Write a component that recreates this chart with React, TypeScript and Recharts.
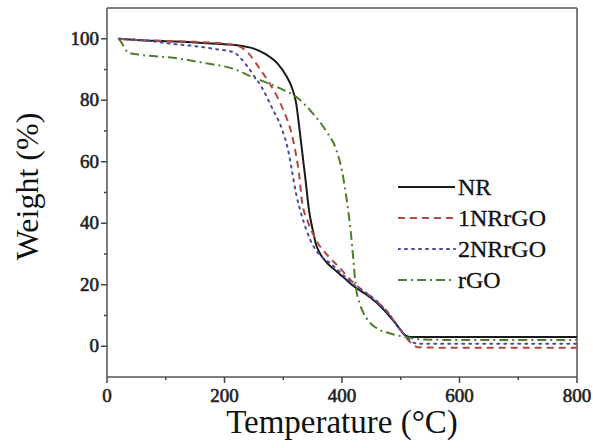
import { LineChart, Line, XAxis, YAxis, Legend, ReferenceLine, Label } from "recharts";

const FONT = "'Liberation Serif', 'Times New Roman', serif";

const xTicks = [0, 100, 200, 300, 400, 500, 600, 700, 800];
const yTicks = [0, 10, 20, 30, 40, 50, 60, 70, 80, 90, 100];

const nrTemp = [20, 50, 100, 150, 200, 225, 250, 270, 290, 305, 315, 322, 328, 333, 338, 344, 350, 356, 363, 375, 390, 405, 420, 440, 460, 480, 495, 505, 515, 600, 700, 800];
const nrWeight = [100, 99.6, 99.2, 98.8, 98.2, 97.8, 96.8, 95, 92, 88, 84, 79, 70, 62, 54, 44, 38, 33, 30, 27, 24.5, 22, 19.5, 17, 14, 10, 6.5, 4, 3, 3, 3, 3];

const r1Temp = [20, 50, 100, 150, 200, 225, 242, 259, 276, 290, 302, 313, 322, 327, 332, 341, 356, 378, 395, 420, 440, 460, 480, 495, 505, 515, 530, 600, 700, 800];
const r1Weight = [100, 99.6, 99.3, 99, 98.4, 97.5, 95, 90.5, 85.7, 81, 76, 70, 62, 56, 47, 41, 34.5, 29, 25.7, 20.5, 17.5, 14.5, 10.5, 6.5, 4, 1.5, -0.3, -0.5, -0.5, -0.5];

const r2Temp = [20, 73, 107, 150, 186, 214, 237, 250, 264, 281, 298, 308, 315, 322, 330, 339, 353, 366, 380, 400, 420, 440, 460, 480, 495, 505, 515, 530, 600, 700, 800];
const r2Weight = [100, 99.3, 98.4, 97.6, 96.6, 95.7, 91.5, 88, 84, 77.5, 70.5, 64, 57, 49.5, 43.5, 38, 32, 29, 27, 23.5, 20, 17.5, 14.5, 10.5, 6.5, 4, 2, 0.8, 0.8, 0.8, 0.8];

const rgoTemp = [20, 24, 30, 36, 56, 113, 169, 208, 225, 242, 264, 293, 324, 349, 373, 390, 400, 407, 412, 415, 418, 420, 422, 425, 430, 436, 446, 458, 485, 508, 530, 600, 700, 800];
const rgoWeight = [100, 99, 97, 95.5, 94.8, 93.8, 92, 90.6, 89.5, 88, 86.3, 84, 80.8, 76, 70, 64, 57, 49, 42, 37, 31, 27, 22, 17.5, 14, 11, 8, 6, 4, 3, 2.3, 2, 2, 2];

const toPoints = (t: number[], w: number[]) => t.map((x, i) => ({ t: x, w: w[i] }));

const series = [
  { name: "NR", data: toPoints(nrTemp, nrWeight), color: "#1a1a1a", dash: undefined as string | undefined },
  { name: "1NRrGO", data: toPoints(r1Temp, r1Weight), color: "#b5483f", dash: "7 5" },
  { name: "2NRrGO", data: toPoints(r2Temp, r2Weight), color: "#4a4aa8", dash: "2 5" },
  { name: "rGO", data: toPoints(rgoTemp, rgoWeight), color: "#507d2a", dash: "9 4 2 4" },
];

// bold look without relying on a bold face being present
const tickText = { fontFamily: FONT, fontSize: 19, fill: "#222", stroke: "#222", strokeWidth: 0.6 };

const YTick = ({ x, y, payload }: any) => {
  const major = payload.value % 20 === 0;
  return (
    <g>
      <line x1={x} x2={x - (major ? 6 : 3)} y1={y} y2={y} stroke="#444" strokeWidth={1.5} />
      {major && (
        <text x={x - 8} y={y} dy={6} textAnchor="end" {...tickText}>
          {payload.value}
        </text>
      )}
    </g>
  );
};

const XTick = ({ x, y, payload }: any) => {
  const major = payload.value % 200 === 0;
  return (
    <g>
      <line x1={x} x2={x} y1={y} y2={y + (major ? 6 : 3)} stroke="#444" strokeWidth={1.5} />
      {major && (
        <text x={x} y={y + 25} textAnchor="middle" {...tickText}>
          {payload.value}
        </text>
      )}
    </g>
  );
};

const LegendBox = () => (
  <svg width={180} height={130}>
    {series.map((s, i) => {
      const cy = 15 + i * 31;
      return (
        <g key={s.name}>
          <line x1={0} x2={57} y1={cy} y2={cy} stroke={s.color} strokeWidth={2} strokeDasharray={s.dash} strokeLinecap={s.dash === "2 5" ? "round" : "butt"} />
          <text x={60} y={cy + 8} fontFamily={FONT} fontSize={24} fill="#111" stroke="#111" strokeWidth={0.3}>
            {s.name}
          </text>
        </g>
      );
    })}
  </svg>
);

const App = () => {
  return (
    <div style={{ position: "absolute", left: 0, top: 0, background: "#fff" }}>
      <LineChart width={593} height={448} margin={{ top: 8, right: 16, left: 0, bottom: 0 }}>
        <XAxis
          type="number"
          dataKey="t"
          domain={[0, 800]}
          ticks={xTicks}
          interval={0}
          height={71}
          tickSize={0}
          tickMargin={0}
          tick={<XTick />}
          axisLine={{ stroke: "#555", strokeWidth: 1.5 }}
          allowDataOverflow
        >
          <Label
            content={({ viewBox }: any) => (
              <text x={viewBox.x + viewBox.width / 2} y={viewBox.y + 56} textAnchor="middle" fontFamily={FONT} fontSize={33} fill="#111">
                Temperature (°C)
              </text>
            )}
          />
        </XAxis>
        <YAxis
          type="number"
          domain={[-10, 110]}
          ticks={yTicks}
          interval={0}
          width={107}
          tickSize={0}
          tickMargin={0}
          tick={<YTick />}
          axisLine={{ stroke: "#555", strokeWidth: 1.5 }}
          allowDataOverflow
        >
          <Label
            content={({ viewBox }: any) => {
              const cx = viewBox.x + 27;
              const cy = viewBox.y + viewBox.height / 2 - 6;
              return (
                <text x={cx} y={cy} transform={`rotate(-90 ${cx} ${cy})`} textAnchor="middle" dominantBaseline="central" fontFamily={FONT} fontSize={32} fill="#111">
                  Weight (%)
                </text>
              );
            }}
          />
        </YAxis>
        <ReferenceLine y={110} stroke="#555" strokeWidth={1.5} />
        <ReferenceLine x={800} stroke="#555" strokeWidth={1.5} />
        {series.map((s) => (
          <Line
            key={s.name}
            data={s.data}
            dataKey="w"
            name={s.name}
            type="monotone"
            stroke={s.color}
            strokeWidth={2}
            strokeDasharray={s.dash}
            strokeLinecap={s.dash === "2 5" ? "round" : "butt"}
            dot={false}
            activeDot={false}
            isAnimationActive={false}
          />
        ))}
        <Legend
          layout="vertical"
          align="center"
          verticalAlign="middle"
          wrapperStyle={{ left: 398, top: 172, width: 180 }}
          content={() => <LegendBox />}
        />
      </LineChart>
    </div>
  );
};

export default App;
